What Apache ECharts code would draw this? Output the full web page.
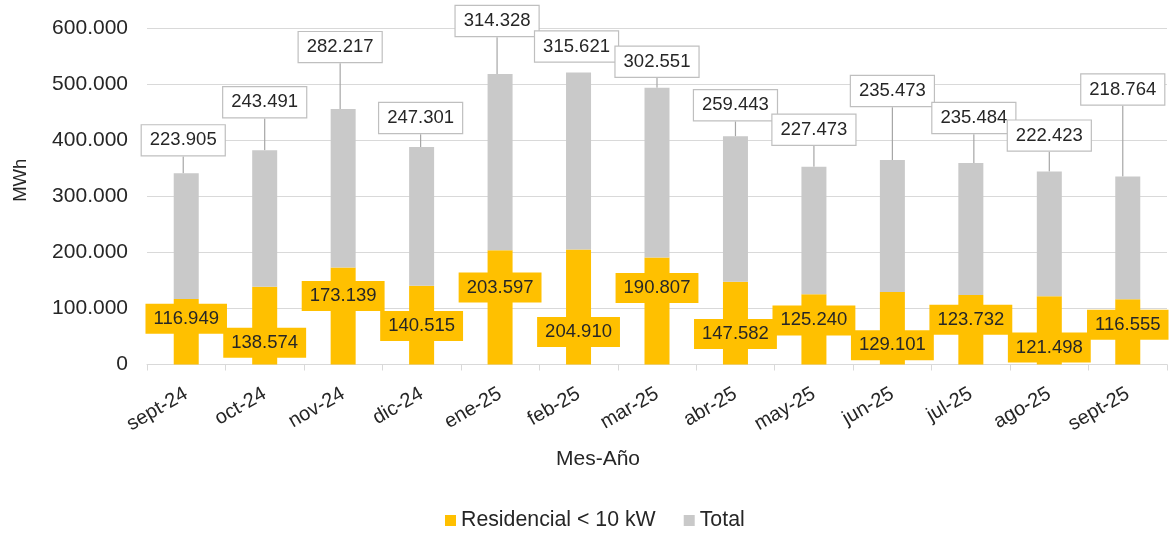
<!DOCTYPE html>
<html><head><meta charset="utf-8">
<script src="https://cdn.jsdelivr.net/npm/echarts@6/dist/echarts.min.js"></script>
<style>html,body{margin:0;padding:0;background:#fff}#c{width:1171px;height:534px}</style>
</head><body><div id="c"></div>
<script>
const categories = ['sept-24','oct-24','nov-24','dic-24','ene-25','feb-25','mar-25','abr-25','may-25','jun-25','jul-25','ago-25','sept-25'];
const residencial = [116949,138574,173139,140515,203597,204910,190807,147582,125240,129101,123732,121498,116555];
const total = [223905,243491,282217,247301,314328,315621,302551,259443,227473,235473,235484,222423,218764];
const seriesNames = ['Residencial < 10 kW','Total'];

// label nudges in pixels (manual label placement of the original)
const resLabelDy = [-13,17,-20,1,-20,25,-23,11,-9,17,-10,17,-7];
const totLabelDx = [-3,0,-3,-1,-3,-2,0,0,0,0,3,0,-5];
const totLabelDy = [-18,-33,-47,-14,-38,-11,-11,-16,-22,-54,-30,-21,-72];
const totLeader = [1,1,1,1,1,0,1,1,1,1,1,1,1];

const FONT = '"Liberation Sans", Arial, Helvetica, sans-serif';
const TXT = '#262626';
const fmt = v => String(Math.round(v)).replace(/\B(?=(\d{3})+(?!\d))/g, '.');

const chart = echarts.init(document.getElementById('c'), null, {renderer: 'canvas'});
chart.setOption({
  animation: false,
  textStyle: {fontFamily: FONT, color: TXT},
  grid: {left: 147, right: 4, top: 28, bottom: 169.5, containLabel: false},
  legend: {
    data: seriesNames, left: 445, top: 510, padding: 0, icon: 'rect', itemWidth: 11, itemHeight: 11, itemGap: 28,
    textStyle: {fontSize: 21.3, color: TXT, fontFamily: FONT}
  },
  xAxis: {
    type: 'category', data: categories,
    name: 'Mes-Año', nameLocation: 'middle', nameGap: 84,
    nameTextStyle: {fontSize: 21, color: TXT, fontFamily: FONT, padding: [0, 118, 0, 0]},
    axisLine: {lineStyle: {color: '#D9D9D9', width: 1}},
    axisTick: {show: true, length: 6, lineStyle: {color: '#D9D9D9'}},
    axisLabel: {rotate: 30, fontSize: 20, color: TXT, margin: 28, fontFamily: FONT}
  },
  yAxis: {
    type: 'value', min: 0, max: 600000, interval: 100000,
    name: 'MWh', nameLocation: 'middle', nameGap: 117,
    nameTextStyle: {fontSize: 18.5, color: TXT, fontFamily: FONT, padding: [0, 0, 0, 32]},
    axisLine: {show: false}, axisTick: {show: false},
    splitLine: {lineStyle: {color: '#D9D9D9', width: 1}},
    axisLabel: {fontSize: 21, color: TXT, margin: 19, formatter: fmt, fontFamily: FONT}
  },
  series: [
    {
      name: seriesNames[0], type: 'bar', stack: 'tot', barWidth: 25,
      itemStyle: {color: '#FFC000'},
      data: residencial,
      label: {
        show: true, position: 'inside', formatter: p => fmt(p.value),
        backgroundColor: '#FFC000', padding: [5, 8], fontSize: 18.5, lineHeight: 20,
        color: TXT, fontFamily: FONT
      },
      labelLayout: p => ({dy: resLabelDy[p.dataIndex]})
    },
    {
      name: seriesNames[1], type: 'bar', stack: 'tot', barWidth: 25,
      itemStyle: {color: '#C9C9C9'},
      data: total.map((v, i) => totLeader[i] ? v : {value: v, labelLine: {show: false}}),
      label: {
        show: true, position: 'top', distance: 0, formatter: p => fmt(p.value),
        backgroundColor: '#FFFFFF', borderColor: '#BFBFBF', borderWidth: 1.2,
        padding: [5, 8], fontSize: 18.5, lineHeight: 20, color: TXT, fontFamily: FONT
      },
      labelLine: {show: true, lineStyle: {color: '#A6A6A6', width: 1.2}},
      labelLayout: p => ({dx: totLabelDx[p.dataIndex], dy: totLabelDy[p.dataIndex]})
    }
  ]
});
</script>
</body></html>
